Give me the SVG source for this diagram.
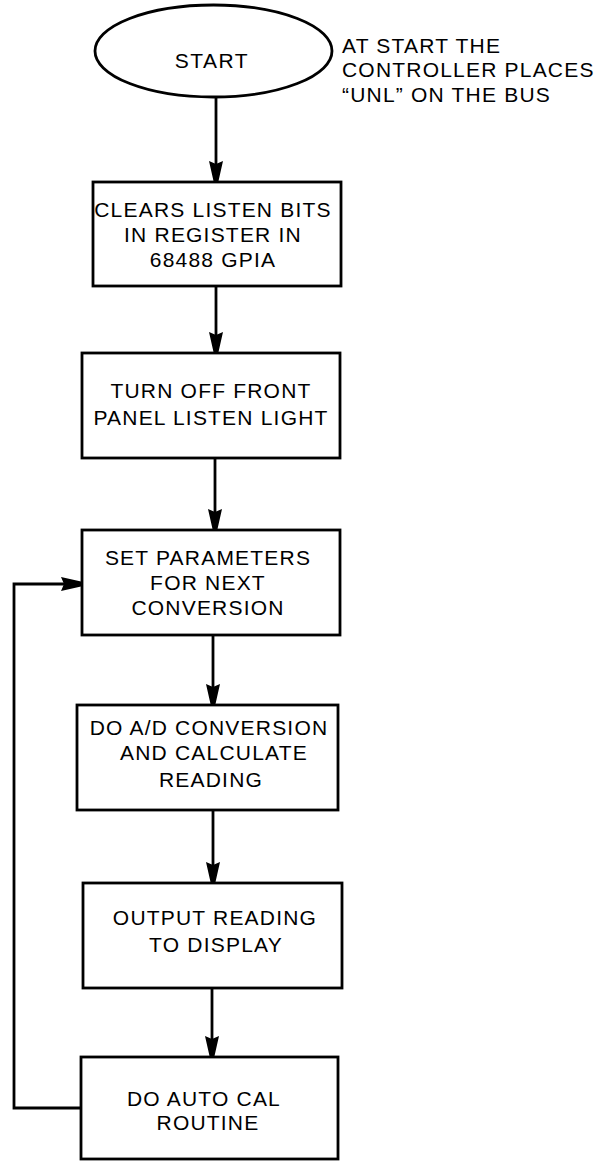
<svg xmlns="http://www.w3.org/2000/svg" width="607" height="1161" viewBox="0 0 607 1161">
<defs>
<style>
.shape{fill:none;stroke:#000;stroke-width:2.8}
.conn{fill:none;stroke:#000;stroke-width:2.8}
text{font-family:"Liberation Sans",Arial,Helvetica,sans-serif;font-size:21px;fill:#000;letter-spacing:1.2px}
.c{text-anchor:middle}
</style>
<marker id="arr" viewBox="0 0 20 14" refX="20" refY="7" markerWidth="20" markerHeight="14" markerUnits="userSpaceOnUse" orient="auto">
<path d="M0,0 L20,4.5 L20,9.5 L0,14 L3,7 Z" fill="#000"/>
</marker>
</defs>
<rect width="607" height="1161" fill="#fff"/>
<g id="connectors">
<line class="conn" x1="216" y1="97" x2="216" y2="181" marker-end="url(#arr)"/>
<line class="conn" x1="216" y1="287" x2="216" y2="352" marker-end="url(#arr)"/>
<line class="conn" x1="215" y1="459" x2="215" y2="529" marker-end="url(#arr)"/>
<line class="conn" x1="213" y1="636" x2="213" y2="704" marker-end="url(#arr)"/>
<line class="conn" x1="213" y1="811" x2="213" y2="882" marker-end="url(#arr)"/>
<line class="conn" x1="212" y1="989" x2="212" y2="1056" marker-end="url(#arr)"/>
<polyline class="conn" points="81,1108 14,1108 14,584 81,584" marker-end="url(#arr)"/>
</g>
<g id="start">
<ellipse class="shape" cx="213.5" cy="51" rx="118.5" ry="46"/>
<text class="c" x="212" y="68" style="letter-spacing:1.5px">START</text>
</g>
<g id="note">
<text x="342" y="53">AT START THE</text>
<text x="342" y="77">CONTROLLER PLACES</text>
<text x="342" y="102">“UNL” ON THE BUS</text>
</g>
<g id="clear-bits">
<rect class="shape" x="93" y="182" width="248" height="104"/>
<text class="c" x="213" y="217">CLEARS LISTEN BITS</text>
<text class="c" x="213" y="242">IN REGISTER IN</text>
<text class="c" x="213" y="267">68488 GPIA</text>
</g>
<g id="turn-off-light">
<rect class="shape" x="82" y="353" width="258" height="105"/>
<text class="c" x="211" y="398">TURN OFF FRONT</text>
<text class="c" x="211" y="425">PANEL LISTEN LIGHT</text>
</g>
<g id="set-parameters">
<rect class="shape" x="82" y="530" width="258" height="105"/>
<text class="c" x="208" y="565">SET PARAMETERS</text>
<text class="c" x="208" y="590">FOR NEXT</text>
<text class="c" x="208" y="615">CONVERSION</text>
</g>
<g id="ad-conversion">
<rect class="shape" x="77" y="705" width="261" height="105"/>
<text class="c" x="209" y="735">DO A/D CONVERSION</text>
<text class="c" x="214" y="760">AND CALCULATE</text>
<text class="c" x="211" y="787">READING</text>
</g>
<g id="output-reading">
<rect class="shape" x="83" y="883" width="259" height="105"/>
<text class="c" x="215" y="925">OUTPUT READING</text>
<text class="c" x="216" y="952">TO DISPLAY</text>
</g>
<g id="auto-cal">
<rect class="shape" x="81" y="1057" width="257" height="102"/>
<text class="c" x="204" y="1106">DO AUTO CAL</text>
<text class="c" x="208" y="1130">ROUTINE</text>
</g>
</svg>
